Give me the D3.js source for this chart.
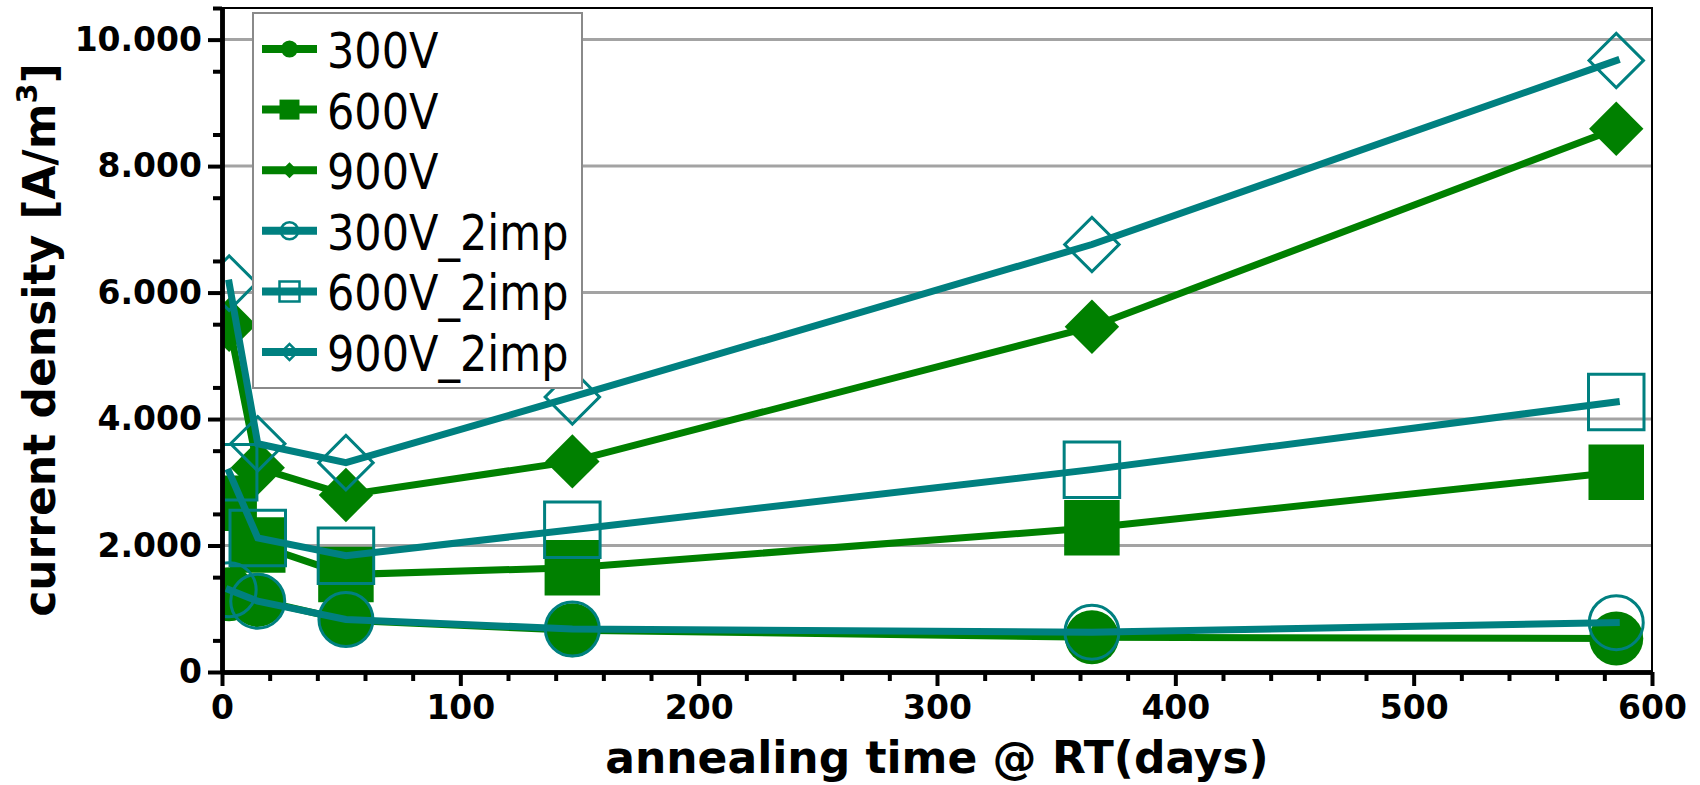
<!DOCTYPE html>
<html>
<head>
<meta charset="utf-8">
<script src="https://cdn.jsdelivr.net/npm/d3@7"></script>
<style>
  body { margin: 0; background: #fff; }
  svg { display: block; }
</style>
</head>
<body>
<div id="chart"></div>
<script>
// annealing data
var days = [3, 15, 52, 147, 365, 585];
var seriesNames = ["300V", "600V", "900V", "300V_2imp", "600V_2imp", "900V_2imp"];
var v300 = [1230, 1140, 820, 660, 550, 530];
var v600 = [2670, 2010, 1540, 1650, 2280, 3160];
var v900 = [5490, 3230, 2800, 3330, 5460, 8590];
var v300imp = [1300, 1120, 830, 680, 630, 780];
var v600imp = [3160, 2120, 1840, 2250, 3200, 4270];
var v900imp = [6150, 3610, 3310, 4350, 6760, 9670];
var xTicks = [0, 100, 200, 300, 400, 500, 600];
var yTicks = [0, 2000, 4000, 6000, 8000, 10000];

var green = "#008000";
var teal = "#008080";

// chart area
var svgWidth = 1700;
var svgHeight = 785;
var margin = {top: 8, right: 48, bottom: 113, left: 222};
var width = svgWidth - margin.left - margin.right;
var height = svgHeight - margin.top - margin.bottom;

var svg = d3.select("#chart")
  .append("svg")
  .attr("width", svgWidth)
  .attr("height", svgHeight)
  .style("background", "#fff");

var chartGroup = svg.append("g")
  .attr("transform", `translate(${margin.left}, ${margin.top})`);

var x = d3.scaleLinear().domain([0, 600]).range([0, width]);
var y = d3.scaleLinear().domain([0, 10500]).range([height, 0]);

// german style thousands separator
var de = d3.formatLocale({decimal: ",", thousands: ".", grouping: [3], currency: ["", "€"]});
var fmt = de.format(",d");

svg.append("defs").append("clipPath")
  .attr("id", "plotClip")
  .append("rect")
  .attr("width", width)
  .attr("height", height);

// gridlines
chartGroup.append("g")
  .selectAll("line")
  .data(yTicks.filter(d => d > 0))
  .enter()
  .append("line")
  .attr("x1", 0)
  .attr("x2", width)
  .attr("y1", d => y(d))
  .attr("y2", d => y(d))
  .attr("stroke", "#a3a3a3")
  .attr("stroke-width", 3);

// thin frame top and right
chartGroup.append("path")
  .attr("d", `M0,0H${width}V${height}`)
  .attr("fill", "none")
  .attr("stroke", "#000")
  .attr("stroke-width", 2);

// series
var series = [
  {name: seriesNames[0], values: v300, color: green, shape: "circle", open: false},
  {name: seriesNames[1], values: v600, color: green, shape: "square", open: false},
  {name: seriesNames[2], values: v900, color: green, shape: "diamond", open: false},
  {name: seriesNames[3], values: v300imp, color: teal, shape: "circle", open: true},
  {name: seriesNames[4], values: v600imp, color: teal, shape: "square", open: true},
  {name: seriesNames[5], values: v900imp, color: teal, shape: "diamond", open: true}
];

function symbolPath(shape, big) {
  if (shape === "circle") return d3.symbol(d3.symbolCircle, big ? 2290 : 230)();
  if (shape === "square") return d3.symbol(d3.symbolSquare, big ? 3080 : 400)();
  return d3.symbol(d3.symbolSquare, big ? 1480 : 130)();
}

var line = d3.line()
  .x((d, i) => x(days[i]))
  .y(d => y(d));

var plot = chartGroup.append("g").attr("clip-path", "url(#plotClip)");

series.forEach(function(s) {
  var g = plot.append("g");
  g.append("path")
    .attr("d", line(s.values))
    .attr("fill", "none")
    .attr("stroke", s.color)
    .attr("stroke-width", 7)
    .attr("stroke-linecap", "square");
  g.selectAll("path.mark")
    .data(s.values)
    .enter()
    .append("path")
    .attr("class", "mark")
    .attr("d", symbolPath(s.shape, true))
    .attr("transform", (d, i) => `translate(${x(days[i])},${y(d)})` + (s.shape === "diamond" ? " rotate(45)" : ""))
    .attr("fill", s.open ? "none" : s.color)
    .attr("stroke", s.open ? s.color : "none")
    .attr("stroke-width", 3);
});

// axes
var axisFont = "'DejaVu Sans', Verdana, sans-serif";

var yAxis = chartGroup.append("g")
  .call(d3.axisLeft(y).tickValues(yTicks).tickSize(14).tickSizeOuter(0).tickPadding(6).tickFormat(fmt));
chartGroup.append("g")
  .call(d3.axisLeft(y).tickValues(d3.range(500, 10501, 1000)).tickSize(9).tickSizeOuter(0).tickFormat(""));

var xAxis = chartGroup.append("g")
  .attr("transform", `translate(0, ${height})`)
  .call(d3.axisBottom(x).tickValues(xTicks).tickSize(14).tickSizeOuter(0).tickFormat(d3.format("d")));
chartGroup.append("g")
  .attr("transform", `translate(0, ${height})`)
  .call(d3.axisBottom(x).tickValues(d3.range(20, 600, 20).filter(d => d % 100 !== 0)).tickSize(9).tickSizeOuter(0).tickFormat(""));

chartGroup.selectAll(".domain").attr("stroke", "#000").attr("stroke-width", 4.5);
chartGroup.selectAll(".tick line").attr("stroke", "#000").attr("stroke-width", 4);
chartGroup.selectAll(".tick text")
  .attr("font-family", axisFont)
  .attr("font-weight", "bold")
  .attr("font-size", 33)
  .attr("fill", "#000");
xAxis.selectAll(".tick text").attr("y", 47).attr("dy", 0);

// axis titles
svg.append("text")
  .attr("x", margin.left + width / 2)
  .attr("y", 773)
  .attr("text-anchor", "middle")
  .attr("font-family", axisFont)
  .attr("font-weight", "bold")
  .attr("font-size", 44)
  .text("annealing time @ RT(days)");

var yTitle = svg.append("text")
  .attr("transform", `translate(55, ${margin.top + height / 2}) rotate(-90)`)
  .attr("text-anchor", "middle")
  .attr("font-family", axisFont)
  .attr("font-weight", "bold")
  .attr("font-size", 44);
yTitle.append("tspan").text("current density [A/m");
yTitle.append("tspan").attr("font-size", 29).attr("dy", -18).text("3");
yTitle.append("tspan").attr("dy", 18).text("]");

// legend
var legend = svg.append("g").attr("transform", "translate(253, 13)");
legend.append("rect")
  .attr("width", 329)
  .attr("height", 375)
  .attr("fill", "#fff")
  .attr("stroke", "#8a8a8a")
  .attr("stroke-width", 2);

var rows = legend.selectAll("g.row")
  .data(series)
  .enter()
  .append("g")
  .attr("class", "row")
  .attr("transform", (d, i) => `translate(0, ${36 + i * 60.6})`);

rows.append("line")
  .attr("x1", 9)
  .attr("x2", 64)
  .attr("stroke", d => d.color)
  .attr("stroke-width", 8);

rows.append("path")
  .attr("d", d => symbolPath(d.shape, false))
  .attr("transform", d => "translate(36.5,0)" + (d.shape === "diamond" ? " rotate(45)" : ""))
  .attr("fill", d => d.open ? "none" : d.color)
  .attr("stroke", d => d.open ? d.color : "none")
  .attr("stroke-width", 2.5);

rows.append("text")
  .attr("x", 74)
  .attr("y", 19)
  .attr("font-family", "'DejaVu Sans', Tahoma, sans-serif")
  .attr("font-size", 50)
  .attr("fill", "#000")
  .text(d => d.name)
  .each(function() {
    var len = this.getComputedTextLength();
    d3.select(this)
      .attr("textLength", len * 0.86)
      .attr("lengthAdjust", "spacingAndGlyphs");
  });
</script>
</body>
</html>
